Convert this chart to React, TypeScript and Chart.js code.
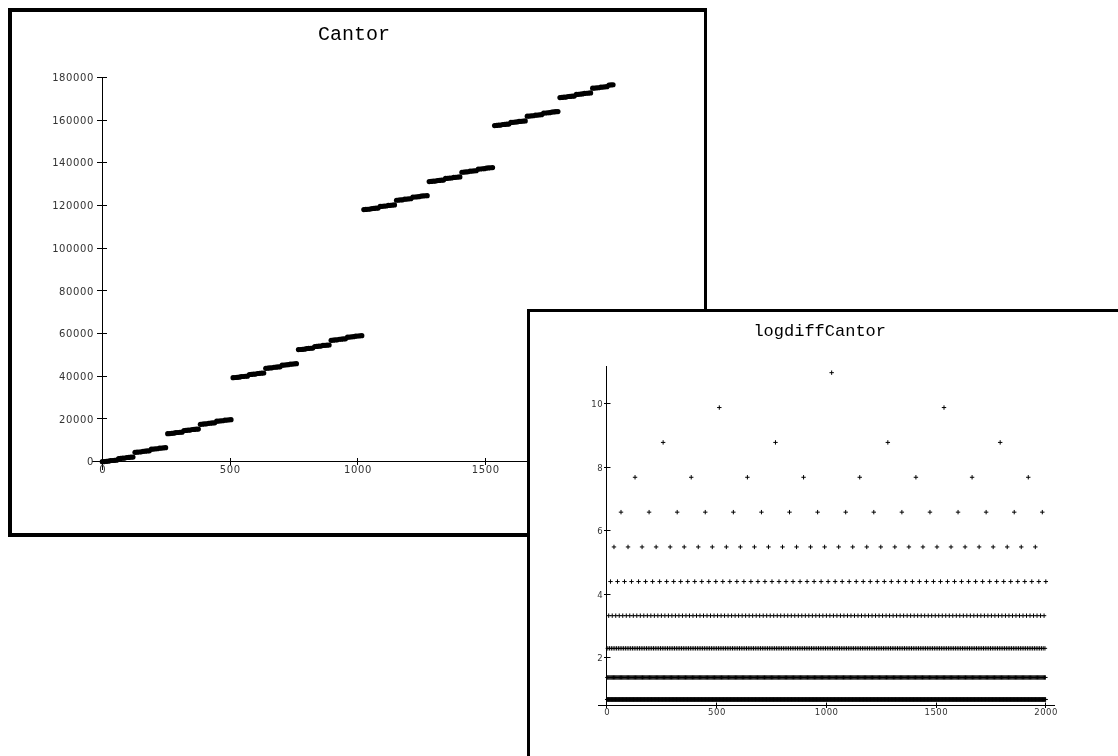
import React, { useEffect, useRef } from "react";
import { Chart, registerables } from "chart.js";

Chart.register(...registerables);

// ---------------- data ----------------
const CANTOR_TITLE = "Cantor";
const LOGDIFF_TITLE = "logdiffCantor";

// Cantor values sampled at every 8th index: n = 0, 8, 16, ..., 2000
const CANTOR_STEP = 8;
const cantorValues = [
  0, 54, 162, 216, 486, 540, 648, 702,
  1458, 1512, 1620, 1674, 1944, 1998, 2106, 2160,
  4374, 4428, 4536, 4590, 4860, 4914, 5022, 5076,
  5832, 5886, 5994, 6048, 6318, 6372, 6480, 6534,
  13122, 13176, 13284, 13338, 13608, 13662, 13770, 13824,
  14580, 14634, 14742, 14796, 15066, 15120, 15228, 15282,
  17496, 17550, 17658, 17712, 17982, 18036, 18144, 18198,
  18954, 19008, 19116, 19170, 19440, 19494, 19602, 19656,
  39366, 39420, 39528, 39582, 39852, 39906, 40014, 40068,
  40824, 40878, 40986, 41040, 41310, 41364, 41472, 41526,
  43740, 43794, 43902, 43956, 44226, 44280, 44388, 44442,
  45198, 45252, 45360, 45414, 45684, 45738, 45846, 45900,
  52488, 52542, 52650, 52704, 52974, 53028, 53136, 53190,
  53946, 54000, 54108, 54162, 54432, 54486, 54594, 54648,
  56862, 56916, 57024, 57078, 57348, 57402, 57510, 57564,
  58320, 58374, 58482, 58536, 58806, 58860, 58968, 59022,
  118098, 118152, 118260, 118314, 118584, 118638, 118746, 118800,
  119556, 119610, 119718, 119772, 120042, 120096, 120204, 120258,
  122472, 122526, 122634, 122688, 122958, 123012, 123120, 123174,
  123930, 123984, 124092, 124146, 124416, 124470, 124578, 124632,
  131220, 131274, 131382, 131436, 131706, 131760, 131868, 131922,
  132678, 132732, 132840, 132894, 133164, 133218, 133326, 133380,
  135594, 135648, 135756, 135810, 136080, 136134, 136242, 136296,
  137052, 137106, 137214, 137268, 137538, 137592, 137700, 137754,
  157464, 157518, 157626, 157680, 157950, 158004, 158112, 158166,
  158922, 158976, 159084, 159138, 159408, 159462, 159570, 159624,
  161838, 161892, 162000, 162054, 162324, 162378, 162486, 162540,
  163296, 163350, 163458, 163512, 163782, 163836, 163944, 163998,
  170586, 170640, 170748, 170802, 171072, 171126, 171234, 171288,
  172044, 172098, 172206, 172260, 172530, 172584, 172692, 172746,
  174960, 175014, 175122, 175176, 175446, 175500, 175608, 175662,
  176418, 176472, 176580,
];
const cantorXTicks = [0, 500, 1000, 1500, 2000];
const cantorYTicks = [0, 20000, 40000, 60000, 80000, 100000, 120000, 140000, 160000, 180000];

// logdiffCantor: each horizontal level, where its points start and how often they repeat
const logDiffLevels = [0.693, 1.386, 2.303, 3.332, 4.407, 5.497, 6.593, 7.691, 8.789, 9.887, 10.986];
const logDiffFirstIndex = [1, 2, 4, 8, 16, 32, 64, 128, 256, 512, 1024];
const logDiffSpacing = [2, 4, 8, 16, 32, 64, 128, 256, 512, 1024, 2048];
const LOGDIFF_LAST_INDEX = 2000;
const logDiffXTicks = [0, 500, 1000, 1500, 2000];
const logDiffYTicks = [2, 4, 6, 8, 10];

// ---------------- helpers ----------------
const TITLE_FONT = "'Liberation Mono', 'Courier New', Courier, monospace";
const TICK_FONT = "'DejaVu Sans', Verdana, sans-serif";

const align = (p: number) => Math.round(p - 0.5) + 0.5;

// Inward half of the Mathematica-style tick marks (the outward half is Chart.js' own grid tick)
const innerTicksPlugin = {
  id: "innerTicks",
  afterDraw(chart: any, _args: any, opts: any) {
    const xs = chart.scales.x;
    const ys = chart.scales.y;
    const ctx = chart.ctx;
    const ax = align(xs.getPixelForValue(opts.yAxisAt));
    const ay = align(ys.getPixelForValue(opts.xAxisAt));
    ctx.save();
    ctx.strokeStyle = "#000";
    ctx.lineWidth = 1;
    ctx.beginPath();
    ys.ticks.forEach((t: any) => {
      const p = align(ys.getPixelForValue(t.value));
      ctx.moveTo(ax, p);
      ctx.lineTo(ax + opts.yLen, p);
    });
    xs.ticks.forEach((t: any) => {
      const p = align(xs.getPixelForValue(t.value));
      ctx.moveTo(p, ay);
      ctx.lineTo(p, ay - opts.xLen);
    });
    ctx.stroke();
    ctx.restore();
  },
};

// Tick labels placed beside axes that cross inside the plot
const axisLabelsPlugin = {
  id: "axisLabels",
  afterDraw(chart: any, _args: any, opts: any) {
    const xs = chart.scales.x;
    const ys = chart.scales.y;
    const ctx = chart.ctx;
    const ax = xs.getPixelForValue(opts.yAxisAt);
    const ay = ys.getPixelForValue(opts.xAxisAt);
    const ls = opts.letterSpacing;
    ctx.save();
    ctx.fillStyle = opts.color;
    ctx.font = `${opts.size}px ${TICK_FONT}`;
    (ctx as any).letterSpacing = `${ls}px`;
    ctx.textBaseline = "alphabetic";
    ctx.textAlign = "right";
    ys.ticks.forEach((t: any) => {
      ctx.fillText(String(t.value), ax - opts.yGap + ls, ys.getPixelForValue(t.value) + opts.size * 0.3645);
    });
    ctx.textAlign = "center";
    xs.ticks.forEach((t: any) => {
      ctx.fillText(String(t.value), xs.getPixelForValue(t.value) + ls / 2, ay + opts.xBaseline);
    });
    ctx.restore();
  },
};

function makeAxis(o: { min: number; max: number; position: any; tickValues: number[]; tickLength: number }) {
  return {
    type: "linear",
    min: o.min,
    max: o.max,
    position: o.position,
    afterBuildTicks: (scale: any) => {
      scale.ticks = o.tickValues.map((value) => ({ value }));
    },
    ticks: { display: false, autoSkip: false },
    grid: {
      display: true,
      drawOnChartArea: false,
      drawTicks: true,
      tickLength: o.tickLength,
      color: "#000",
      lineWidth: 1,
    },
    border: { display: true, color: "#000", width: 1 },
  };
}

function cantorConfig(): any {
  const points = cantorValues.map((v, i) => ({ x: i * CANTOR_STEP, y: v }));
  return {
    type: "scatter",
    data: {
      datasets: [
        {
          data: points,
          xAxisID: "x",
          yAxisID: "y",
          pointRadius: 2.6,
          pointHoverRadius: 2.6,
          pointBackgroundColor: "#000",
          pointBorderWidth: 0,
          showLine: false,
        },
      ],
    },
    options: {
      responsive: false,
      animation: false,
      events: [],
      layout: { padding: { left: 80.1, right: 88.1, top: 0, bottom: 63.8 } },
      plugins: {
        legend: { display: false },
        tooltip: { enabled: false },
        title: {
          display: true,
          text: CANTOR_TITLE,
          color: "#000",
          font: { family: TITLE_FONT, size: 20, weight: "normal", lineHeight: 1.2 },
          padding: { top: 10.7, bottom: 30.5 },
        },
        innerTicks: { yAxisAt: 0, xAxisAt: 0, xLen: 3.5, yLen: 4.5 },
        axisLabels: { yAxisAt: 0, xAxisAt: 0, size: 10, letterSpacing: 0.6, color: "#333", yGap: 9, xBaseline: 11.6 },
      },
      scales: {
        x: makeAxis({ min: -40, max: 2011, position: { y: 0 }, tickValues: cantorXTicks, tickLength: 3 }),
        y: makeAxis({ min: -3532, max: 180112, position: { x: 0 }, tickValues: cantorYTicks, tickLength: 5 }),
      },
    },
    plugins: [innerTicksPlugin, axisLabelsPlugin],
  };
}

function logDiffConfig(): any {
  const points: { x: number; y: number }[] = [];
  logDiffLevels.forEach((level, k) => {
    for (let i = logDiffFirstIndex[k]; i <= LOGDIFF_LAST_INDEX; i += logDiffSpacing[k]) {
      points.push({ x: i, y: level });
    }
  });
  return {
    type: "scatter",
    data: {
      datasets: [
        {
          data: points,
          xAxisID: "x",
          yAxisID: "y",
          pointStyle: "cross",
          pointRadius: 2.2,
          pointHoverRadius: 2.2,
          borderColor: "#000",
          pointBorderColor: "#000",
          pointBorderWidth: 1,
          showLine: false,
        },
      ],
    },
    options: {
      responsive: false,
      animation: false,
      events: [],
      layout: { padding: { left: 54.8, right: 63.4, top: 0, bottom: 50.4 } },
      plugins: {
        legend: { display: false },
        tooltip: { enabled: false },
        title: {
          display: true,
          text: LOGDIFF_TITLE,
          color: "#000",
          font: { family: TITLE_FONT, size: 17, weight: "normal", lineHeight: 1.2 },
          padding: { top: 9, bottom: 25.1 },
        },
        innerTicks: { yAxisAt: 0, xAxisAt: 0.5, xLen: 3, yLen: 4 },
        axisLabels: { yAxisAt: 0, xAxisAt: 0.5, size: 8.5, letterSpacing: 0.5, color: "#333", yGap: 4.3, xBaseline: 9.4 },
      },
      scales: {
        x: makeAxis({ min: -39, max: 2040, position: { y: 0.5 }, tickValues: logDiffXTicks, tickLength: 2 }),
        y: makeAxis({ min: 0.5, max: 11.18, position: { x: 0 }, tickValues: logDiffYTicks, tickLength: 2 }),
        // empty margin box on the left so the title sits where the original has it
        pad: {
          type: "linear",
          axis: "y",
          position: "left",
          display: true,
          ticks: { display: false },
          grid: { display: false },
          border: { display: false },
          afterFit: (scale: any) => {
            scale.width = 13.6;
          },
        },
      },
    },
    plugins: [innerTicksPlugin, axisLabelsPlugin],
  };
}

function ChartCanvas(props: { makeConfig: () => any; left: number; top: number; width: number; height: number }) {
  const ref = useRef<HTMLCanvasElement | null>(null);
  useEffect(() => {
    if (!ref.current) return;
    const chart = new Chart(ref.current, props.makeConfig());
    return () => chart.destroy();
  }, []);
  return (
    <canvas
      ref={ref}
      width={props.width}
      height={props.height}
      style={{
        position: "absolute",
        left: props.left,
        top: props.top,
        width: props.width,
        height: props.height,
        display: "block",
      }}
    />
  );
}

export default function App() {
  return (
    <div
      style={{
        position: "fixed",
        left: 0,
        top: 0,
        width: 1118,
        height: 756,
        overflow: "hidden",
        background: "#fff",
      }}
    >
      <div
        style={{
          position: "absolute",
          left: 8,
          top: 8,
          width: 699,
          height: 529,
          boxSizing: "border-box",
          borderStyle: "solid",
          borderColor: "#000",
          borderWidth: "4px 3px 4px 4px",
          background: "#fff",
        }}
      />
      <ChartCanvas makeConfig={cantorConfig} left={12} top={12} width={692} height={521} />
      <div
        style={{
          position: "absolute",
          left: 527,
          top: 309,
          width: 700,
          height: 500,
          boxSizing: "border-box",
          borderStyle: "solid",
          borderColor: "#000",
          borderWidth: "3px 0 0 3px",
          background: "#fff",
        }}
      />
      <ChartCanvas makeConfig={logDiffConfig} left={530} top={312} width={588} height={444} />
    </div>
  );
}
